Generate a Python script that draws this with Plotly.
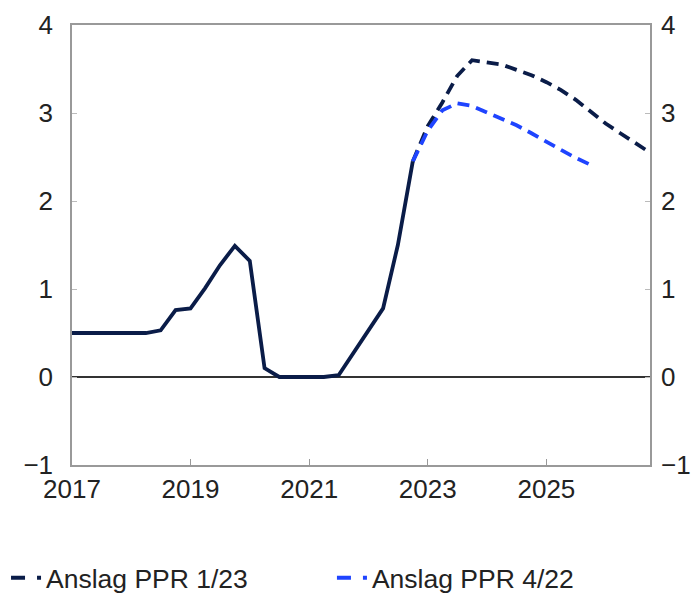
import pandas as pd
import plotly.graph_objects as go

# Quarterly data
hist_start = "2017-01-01"
hist_values = [0.5, 0.5, 0.5, 0.5,
               0.5, 0.5, 0.53, 0.76,
               0.78, 1.01, 1.27, 1.49,
               1.32, 0.10, 0.0, 0.0,
               0.0, 0.0, 0.02, 0.27,
               0.52, 0.78, 1.50, 2.45]

ppr123_start = "2022-10-01"
ppr123_values = [2.45, 2.85, 3.12, 3.42, 3.60, 3.57, 3.55, 3.49, 3.43,
                 3.35, 3.26, 3.15, 3.01, 2.88, 2.77, 2.66, 2.55]

ppr422_start = "2022-10-01"
ppr422_values = [2.45, 2.80, 3.03, 3.11, 3.08, 3.01, 2.94, 2.86, 2.77,
                 2.67, 2.58, 2.49, 2.41]

series_names = ["Anslag PPR 1/23", "Anslag PPR 4/22"]
x_tick_years = ["2017", "2019", "2021", "2023", "2025"]
y_ticks = [-1, 0, 1, 2, 3, 4]

hist_dates = pd.date_range(hist_start, periods=len(hist_values), freq="QS")
ppr123_dates = pd.date_range(ppr123_start, periods=len(ppr123_values), freq="QS")
ppr422_dates = pd.date_range(ppr422_start, periods=len(ppr422_values), freq="QS")

NAVY = "#0a1c48"
BLUE = "#1f44ff"
FONT = "Liberation Sans, Arial, sans-serif"
LINE_DASH = "12px,7px"
LEGEND_DASH = "14px,12px,4px,40px"

fig = go.Figure()
fig.add_trace(go.Scatter(x=ppr123_dates, y=ppr123_values, mode="lines",
                         name=series_names[0], showlegend=False,
                         line=dict(color=NAVY, width=3.8, dash=LINE_DASH)))
fig.add_trace(go.Scatter(x=ppr422_dates, y=ppr422_values, mode="lines",
                         name=series_names[1], showlegend=False,
                         line=dict(color=BLUE, width=3.8, dash=LINE_DASH)))
fig.add_trace(go.Scatter(x=hist_dates, y=hist_values, mode="lines",
                         showlegend=False,
                         line=dict(color=NAVY, width=3.8)))
# legend entries
fig.add_trace(go.Scatter(x=[None], y=[None], mode="lines", name=series_names[0],
                         legend="legend",
                         line=dict(color=NAVY, width=4, dash=LEGEND_DASH)))
fig.add_trace(go.Scatter(x=[None], y=[None], mode="lines", name=series_names[1],
                         legend="legend2",
                         line=dict(color=BLUE, width=4, dash=LEGEND_DASH)))
# invisible trace for right axis
fig.add_trace(go.Scatter(x=[hist_dates[0]], y=[0], yaxis="y2", mode="lines",
                         showlegend=False, hoverinfo="skip",
                         line=dict(color="rgba(0,0,0,0)")))

legend_common = dict(
    orientation="h", xref="container", yref="container",
    xanchor="left", yanchor="middle", y=0.03,
    font=dict(size=26.5), bgcolor="rgba(0,0,0,0)",
)

fig.update_layout(
    width=693, height=596,
    margin=dict(l=72, r=43, t=25, b=131, autoexpand=False),
    paper_bgcolor="white", plot_bgcolor="white",
    font=dict(family=FONT, size=26, color="#222222"),
    xaxis=dict(
        type="date", automargin=False,
        range=["2017-01-01", "2026-10-01"],
        tickvals=[f"{y}-01-01" for y in x_tick_years],
        ticktext=x_tick_years,
        ticks="inside", ticklen=6, tickcolor="#999999",
        showline=True, linecolor="#999999", linewidth=1.5, mirror=True,
        showgrid=False, zeroline=False,
        tickfont=dict(size=26),
    ),
    yaxis=dict(
        range=[-1, 4], tickvals=y_ticks, automargin=False,
        ticks="inside", ticklen=5, tickcolor="#bbbbbb",
        showline=True, linecolor="#999999", linewidth=1.5, mirror=True,
        showgrid=False, zeroline=True, zerolinecolor="#333333", zerolinewidth=1.5,
        ticklabelstandoff=12, tickfont=dict(size=26),
    ),
    yaxis2=dict(
        range=[-1, 4], tickvals=y_ticks, overlaying="y", side="right",
        automargin=False,
        ticks="inside", ticklen=5, tickcolor="#bbbbbb",
        showline=False, showgrid=False, zeroline=False,
        ticklabelstandoff=10, tickfont=dict(size=26),
    ),
    legend=dict(x=0.0087, **legend_common),
    legend2=dict(x=0.479, **legend_common),
    showlegend=True,
)

fig.write_html("out.html", config={"displayModeBar": False},
               post_script="document.body.style.margin='0';")
